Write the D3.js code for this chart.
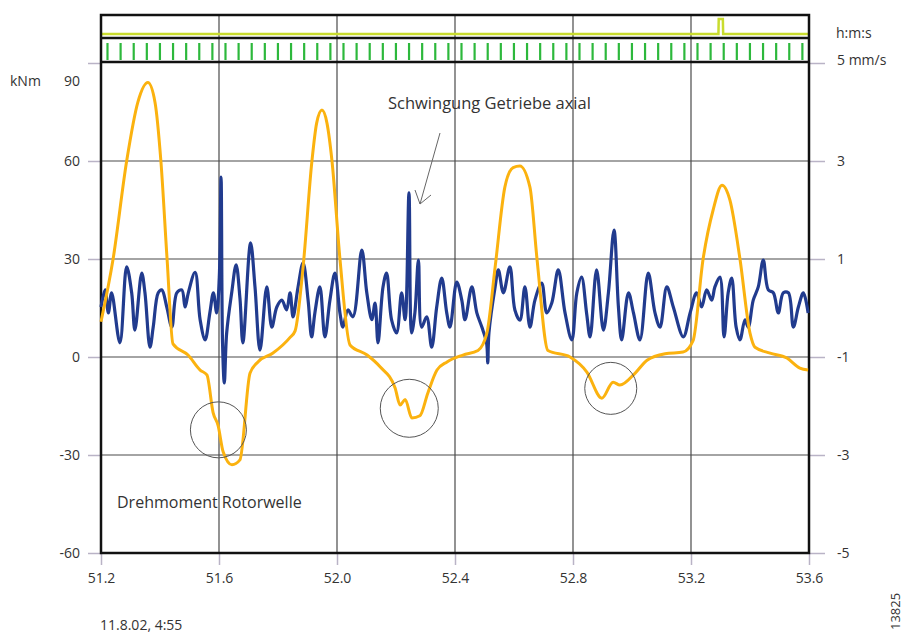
<!DOCTYPE html>
<html>
<head>
<meta charset="utf-8">
<script src="https://cdn.jsdelivr.net/npm/d3@7"></script>
<style>
  body { margin: 0; background: #fff; }
  svg { display: block; font-family: "Open Sans", "DejaVu Sans", sans-serif; }
</style>
</head>
<body>
<svg id="chart" width="904" height="634"></svg>
<script>
// time axis (s) and tick labels
const timeTicks = [51.2, 51.6, 52.0, 52.4, 52.8, 53.2, 53.6]
const torqueTicks = [90, 60, 30, 0, -30, -60]
const vibTicks = [5, 3, 1, -1, -3, -5]

// Drehmoment Rotorwelle (kNm)
const torqueTime = [51.200, 51.241, 51.287, 51.325, 51.359, 51.383, 51.403, 51.424, 51.444, 51.495,
  51.536, 51.559, 51.580, 51.597, 51.614, 51.644, 51.671, 51.705, 51.732, 51.783,
  51.841, 51.858, 51.885, 51.915, 51.931, 51.949, 51.966, 51.983, 52.010, 52.044,
  52.102, 52.146, 52.197, 52.214, 52.231, 52.254, 52.281, 52.308, 52.339, 52.373,
  52.427, 52.478, 52.508, 52.536, 52.569, 52.597, 52.620, 52.654, 52.678, 52.715,
  52.790, 52.847, 52.898, 52.936, 52.959, 53.010, 53.051, 53.112, 53.173, 53.207,
  53.241, 53.275, 53.305, 53.332, 53.366, 53.400, 53.417, 53.468, 53.525, 53.569, 53.597]
const torqueKNm = [10.8, 30, 60, 78, 84, 78, 60, 30, 4, 0.6,
  -4, -5.5, -17, -21, -29, -33, -31.5, -5, -1.5, 1.2,
  6, 8, 27.5, 60, 71.6, 75.6, 71.6, 60, 30, 3.7,
  0.6, -3, -9.5, -14.7, -13, -18.7, -18, -11, -4, -1.5,
  0.6, 2, 7.3, 27.5, 52, 58, 58.5, 52, 30, 2,
  0, -4.6, -12.6, -7.7, -8.6, -5, -1, 1, 1.5, 5,
  30, 45, 52.6, 48, 30, 7.3, 3, 1.2, -0.3, -3.4, -4]

// Schwingung Getriebe axial (mm/s)
const vibTime = [51.200, 51.214, 51.225, 51.236, 51.264, 51.287, 51.304, 51.315, 51.338, 51.349,
  51.366, 51.377, 51.394, 51.406, 51.423, 51.440, 51.457, 51.474, 51.485, 51.496,
  51.519, 51.536, 51.553, 51.569, 51.581, 51.592, 51.601, 51.607, 51.612, 51.618,
  51.626, 51.643, 51.658, 51.671, 51.681, 51.707, 51.722, 51.739, 51.762, 51.779,
  51.796, 51.813, 51.829, 51.841, 51.851, 51.868, 51.885, 51.902, 51.914, 51.925,
  51.942, 51.959, 51.976, 51.993, 52.010, 52.020, 52.037, 52.054, 52.084, 52.101,
  52.118, 52.129, 52.139, 52.156, 52.168, 52.185, 52.202, 52.219, 52.231, 52.244,
  52.253, 52.264, 52.276, 52.287, 52.304, 52.321, 52.338, 52.355, 52.372, 52.383,
  52.406, 52.423, 52.434, 52.457, 52.474, 52.491, 52.507, 52.511, 52.515, 52.536,
  52.547, 52.564, 52.586, 52.603, 52.620, 52.637, 52.654, 52.671, 52.694, 52.711,
  52.728, 52.750, 52.773, 52.796, 52.813, 52.829, 52.846, 52.858, 52.880, 52.903,
  52.920, 52.939, 52.954, 52.965, 52.988, 53.005, 53.027, 53.055, 53.078, 53.095,
  53.118, 53.140, 53.174, 53.197, 53.219, 53.236, 53.253, 53.270, 53.281, 53.298,
  53.312, 53.326, 53.338, 53.353, 53.366, 53.383, 53.394, 53.411, 53.428, 53.445,
  53.462, 53.479, 53.496, 53.513, 53.530, 53.547, 53.564, 53.581, 53.597]
const vibMms = [0.02, 0.37, -0.10, 0.31, -0.71, 0.84, 0.31, -0.45, 0.71, 0.31,
  -0.80, -0.39, 0.31, 0.37, 0.02, -0.39, 0.31, 0.37, 0.02, 0.31,
  0.73, -0.24, -0.65, -0.10, 0.31, -0.10, 0.63, 2.67, -0.71, -1.53,
  -0.51, 0.31, 0.88, 0.20, -0.71, 1.33, 0.43, -0.86, 0.43, -0.39,
  0.02, 0.16, -0.04, 0.31, -0.18, 0.43, 0.92, 0.16, -0.59, -0.10,
  0.43, -0.59, 0.16, 0.71, -0.10, -0.39, -0.04, -0.18, 1.18, 0.31,
  -0.24, 0.10, -0.71, 0.43, 0.71, -0.24, -0.51, 0.31, -0.24, 2.35,
  -0.51, -0.10, 0.98, -0.39, -0.18, -0.80, 0.02, 0.61, -0.10, -0.39,
  0.53, 0.16, -0.24, 0.43, -0.10, -0.39, -0.71, -1.12, -0.51, 0.43,
  0.78, 0.31, 0.84, -0.04, -0.25, 0.43, -0.39, 0.16, 0.51, -0.10,
  0.10, 0.78, -0.10, -0.65, 0.31, 0.63, -0.10, -0.59, 0.78, -0.45,
  0.31, 1.59, 0.02, -0.65, 0.31, -0.10, -0.65, 0.71, -0.10, -0.39,
  0.43, 0.02, -0.59, -0.10, 0.31, 0.02, 0.37, 0.16, 0.43, 0.63,
  -0.59, 0.31, 0.61, -0.39, -0.65, -0.24, -0.39, 0.16, 0.43, 0.98,
  0.37, 0.31, -0.10, 0.31, 0.31, -0.39, 0.02, 0.31, -0.10]

// h:m:s trace with one pulse, 0 = low, 1 = high
const hmsTime = [51.2, 53.293, 53.294, 53.308, 53.309, 53.6]
const hmsLevel = [0, 0, 1, 1, 0, 0]

// marked spots (time, kNm)
const circleTime = [51.598, 52.245, 52.928]
const circleKNm = [-22.3, -15.7, -9.6]
const circleR = [28, 29, 26]

const svg = d3.select("#chart")

let plot = { left: 101, right: 809, top: 63, bottom: 553 }
let strip = { top: 15, hms: 34, pulse: 19, mid: 38, tickTop: 43, tickBottom: 60 }

let x = d3.scaleLinear().domain([51.2, 53.6]).range([plot.left, plot.right])
let yL = d3.scaleLinear().domain([-60, 90]).range([plot.bottom, plot.top])
let yR = d3.scaleLinear().domain([-5, 5]).range([plot.bottom, plot.top])
let yS = d3.scaleLinear().domain([0, 1]).range([strip.hms, strip.pulse])

// axes (plain hyphen for negatives, like the print)
let axisL = svg.append("g")
    .attr("transform", "translate(" + plot.left + ",0)")
    .call(d3.axisLeft(yL).tickValues(torqueTicks).tickSize(13).tickPadding(8).tickFormat(d => String(d)))
let axisR = svg.append("g")
    .attr("transform", "translate(" + plot.right + ",0)")
    .call(d3.axisRight(yR).tickValues(vibTicks).tickSize(16).tickPadding(12)
        .tickFormat(d => d === 5 ? "5  mm/s" : String(d)))
let axisB = svg.append("g")
    .attr("transform", "translate(0," + plot.bottom + ")")
    .call(d3.axisBottom(x).tickValues(timeTicks).tickSize(12).tickPadding(8).tickFormat(d => d.toFixed(1)))

for (let ax of [axisL, axisR, axisB]) {
    ax.select(".domain").remove()
    ax.selectAll(".tick line").attr("stroke", "#b9b3c6").attr("stroke-width", 1.5)
    ax.selectAll(".tick text").attr("font-size", 14).attr("fill", "#333")
        .attr("font-family", "'Open Sans', sans-serif")
}
// the 90 label sits a bit lower, next to the unit
axisL.selectAll(".tick").filter(d => d === 90).select("text").attr("dy", "1.6em")
axisR.selectAll(".tick").filter(d => d === 5).select("text").attr("dy", "0.1em")

// grid
svg.append("g").selectAll("line")
    .data([60, 30, 0, -30])
    .join("line")
    .attr("x1", plot.left).attr("x2", plot.right)
    .attr("y1", d => yL(d)).attr("y2", d => yL(d))
    .attr("stroke", "#4a4a4a").attr("stroke-width", 1.2)
svg.append("g").selectAll("line")
    .data(timeTicks.slice(1, -1))
    .join("line")
    .attr("x1", d => x(d)).attr("x2", d => x(d))
    .attr("y1", strip.top).attr("y2", plot.bottom)
    .attr("stroke", "#4a4a4a").attr("stroke-width", 1.2)

// strip: 5 mm/s timing comb
let comb = d3.range(51.2 + 0.022, 53.6, 0.4 / 9)
svg.append("g").selectAll("line")
    .data(comb)
    .join("line")
    .attr("x1", d => x(d)).attr("x2", d => x(d))
    .attr("y1", strip.tickTop).attr("y2", strip.tickBottom)
    .attr("stroke", "#2db83c").attr("stroke-width", 2.2)

// strip: h:m:s trace
svg.append("path")
    .datum(hmsTime.map((t, i) => [t, hmsLevel[i]]))
    .attr("fill", "none")
    .attr("stroke", "#c9dc2e")
    .attr("stroke-width", 2.5)
    .attr("d", d3.line().x(d => x(d[0])).y(d => yS(d[1])))

// strip dividers and frame
for (let yy of [strip.mid, plot.top - 1]) {
    svg.append("line")
        .attr("x1", plot.left).attr("x2", plot.right)
        .attr("y1", yy).attr("y2", yy)
        .attr("stroke", "#111").attr("stroke-width", 2.5)
}
svg.append("rect")
    .attr("x", plot.left).attr("y", strip.top)
    .attr("width", plot.right - plot.left).attr("height", plot.bottom - strip.top)
    .attr("fill", "none").attr("stroke", "#111").attr("stroke-width", 2.5)

// series
svg.append("path")
    .datum(vibTime.map((t, i) => [t, vibMms[i]]))
    .attr("fill", "none")
    .attr("stroke", "#213b8e")
    .attr("stroke-width", 3.2)
    .attr("stroke-linejoin", "round")
    .attr("d", d3.line().curve(d3.curveCatmullRom.alpha(0.5)).x(d => x(d[0])).y(d => yR(d[1])))

svg.append("path")
    .datum(torqueTime.map((t, i) => [t, torqueKNm[i]]))
    .attr("fill", "none")
    .attr("stroke", "#fbb20f")
    .attr("stroke-width", 3)
    .attr("stroke-linejoin", "round")
    .attr("d", d3.line().curve(d3.curveMonotoneX).x(d => x(d[0])).y(d => yL(d[1])))

// circles
svg.append("g").selectAll("circle")
    .data(circleTime)
    .join("circle")
    .attr("cx", d => x(d))
    .attr("cy", (d, i) => yL(circleKNm[i]))
    .attr("r", (d, i) => circleR[i])
    .attr("fill", "none").attr("stroke", "#555").attr("stroke-width", 1)

// arrow to the spike
let arrow = svg.append("g").attr("stroke", "#666").attr("stroke-width", 1).attr("fill", "none")
arrow.append("line").attr("x1", 440).attr("y1", 133).attr("x2", 420).attr("y2", 204)
arrow.append("path").attr("d", "M415,190 L420,204 L431,195")

// texts
let txt = (s, xx, yy, size, anchor) => svg.append("text")
    .attr("x", xx).attr("y", yy)
    .attr("font-size", size)
    .attr("fill", "#333")
    .attr("text-anchor", anchor || "start")
    .text(s)

txt("Schwingung Getriebe axial", 388, 109, 16.5)
txt("Drehmoment Rotorwelle", 117, 508, 16)
txt("kNm", 10, 86, 14)
txt("h:m:s", 836, 38, 14)
txt("11.8.02,  4:55", 100, 630, 14)
svg.append("text")
    .attr("transform", "translate(900,630) rotate(-90)")
    .attr("font-size", 13)
    .attr("fill", "#333")
    .text("13825")
</script>
</body>
</html>
